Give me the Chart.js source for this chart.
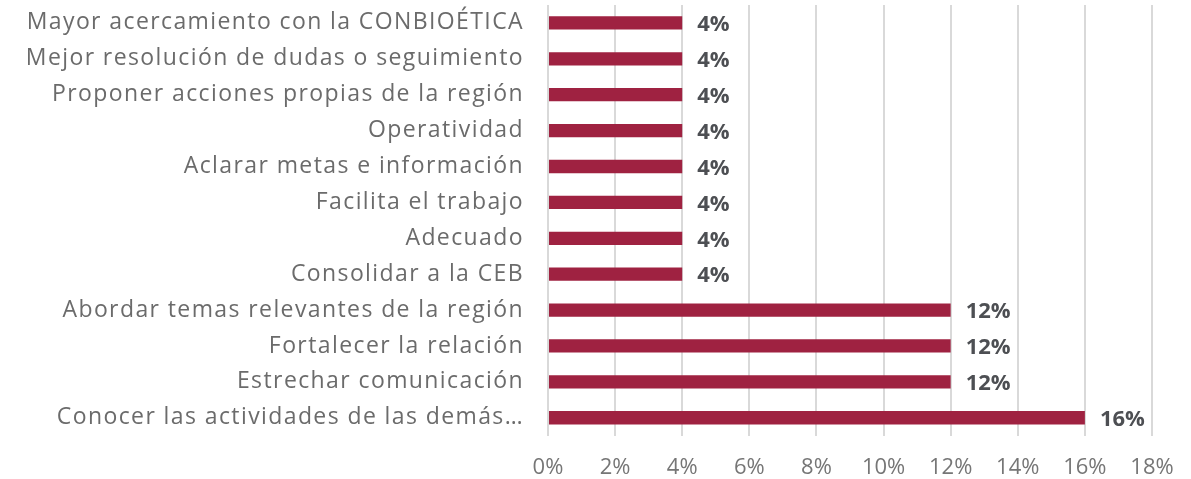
<!DOCTYPE html>
<html>
<head>
<meta charset="utf-8">
<script src="https://cdn.jsdelivr.net/npm/chart.js@4/dist/chart.umd.min.js"></script>
<style>
  body { margin: 0; background: #fff; }
  #wrap { width: 1191px; height: 479px; }
</style>
</head>
<body>
<div id="wrap"><canvas id="chart"></canvas></div>
<script>
const categories = [
  "Mayor acercamiento con la CONBIOÉTICA",
  "Mejor resolución de dudas o seguimiento",
  "Proponer acciones propias de la región",
  "Operatividad",
  "Aclarar metas e información",
  "Facilita el trabajo",
  "Adecuado",
  "Consolidar a la CEB",
  "Abordar temas relevantes de la región",
  "Fortalecer la relación",
  "Estrechar comunicación",
  "Conocer las actividades de las demás…"
];
const percentages = [4, 4, 4, 4, 4, 4, 4, 4, 12, 12, 12, 16];
const xTicks = [0, 2, 4, 6, 8, 10, 12, 14, 16, 18];

const fontFamily = "'Open Sans', 'Noto Sans', sans-serif";

// draws the bold value next to each bar
const valueLabels = {
  id: 'valueLabels',
  afterDatasetsDraw(chart) {
    const ctx = chart.ctx;
    const meta = chart.getDatasetMeta(0);
    ctx.save();
    ctx.font = "bold 22px " + fontFamily;
    ctx.fillStyle = '#4d4f53';
    ctx.textBaseline = 'middle';
    ctx.textAlign = 'left';
    meta.data.forEach((bar, i) => {
      ctx.fillText(percentages[i] + '%', bar.x + 15, bar.y + 2);
    });
    ctx.restore();
  }
};

new Chart(document.getElementById('chart'), {
  type: 'bar',
  data: {
    labels: categories,
    datasets: [{
      data: percentages,
      backgroundColor: '#9f2241',
      barPercentage: 0.37,
      categoryPercentage: 1
    }]
  },
  options: {
    indexAxis: 'y',
    responsive: true,
    maintainAspectRatio: false,
    animation: false,
    layout: { padding: { top: 5, right: 0, bottom: -20, left: 0 } },
    plugins: { legend: { display: false }, tooltip: { enabled: false } },
    scales: {
      x: {
        min: 0,
        max: 18,
        afterBuildTicks(axis) {
          axis.ticks = xTicks.map(v => ({ value: v }));
        },
        afterFit(s) {
          s.paddingLeft = 0;
          s.paddingRight = 39;
        },
        grid: { color: '#d9d9d9', lineWidth: 2, drawTicks: false },
        border: { display: false },
        ticks: {
          padding: 19,
          color: '#767676',
          font: { family: fontFamily, size: 22, lineHeight: 1.15 },
          callback: v => v + '%'
        }
      },
      y: {
        afterFit(s) {
          s.width = 548;
          s.paddingTop = 0;
          s.paddingBottom = 0;
        },
        afterUpdate(s) {
          // wider lettering for the category names
          if (!s._spaced) {
            const draw = s.drawLabels;
            s.drawLabels = function (area) {
              this.ctx.save();
              this.ctx.letterSpacing = '1.4px';
              draw.call(this, area);
              this.ctx.restore();
            };
            s._spaced = true;
          }
        },
        grid: { display: false },
        border: { display: false },
        ticks: {
          padding: 16,
          color: '#6b6b6b',
          font: { family: fontFamily, size: 23 }
        }
      }
    }
  },
  plugins: [valueLabels]
});
</script>
</body>
</html>
